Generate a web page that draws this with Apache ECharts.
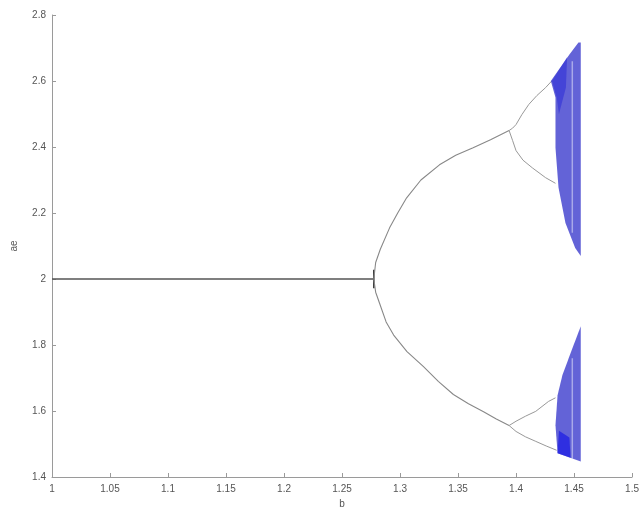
<!DOCTYPE html>
<html>
<head>
<meta charset="utf-8">
<script src="https://cdn.jsdelivr.net/npm/echarts@6/dist/echarts.min.js"></script>
<style>
html,body{margin:0;padding:0;background:#fff;}
#chart{width:642px;height:514px;}
</style>
</head>
<body>
<div id="chart"></div>
<script>
// Axis settings
const xTicks = [1, 1.05, 1.1, 1.15, 1.2, 1.25, 1.3, 1.35, 1.4, 1.45, 1.5];
const yTicks = [1.4, 1.6, 1.8, 2, 2.2, 2.4, 2.6, 2.8];
const xName = 'b';
const yName = 'ae';

// Period-1 fixed point [b, value]
const fixedBranch = [[1.0, 2.0], [1.2774, 2.0]];
const splitSpike = [[1.2774, 1.972], [1.2774, 2.028]];

// Period-2 branches
const upperBranch = [[1.2774, 2.0], [1.279, 2.05], [1.283, 2.09], [1.291, 2.155], [1.298, 2.20], [1.3057, 2.246], [1.318, 2.30], [1.334, 2.346], [1.348, 2.375], [1.363, 2.398], [1.378, 2.422], [1.394, 2.45]];
const lowerBranch = [[1.2774, 2.0], [1.279, 1.96], [1.2825, 1.925], [1.288, 1.87], [1.2945, 1.830], [1.306, 1.78], [1.320, 1.735], [1.333, 1.69], [1.346, 1.650], [1.359, 1.622], [1.372, 1.598], [1.383, 1.576], [1.394, 1.556]];

// Period-4 branches
const upperUpper = [[1.394, 2.45], [1.397, 2.457], [1.400, 2.468], [1.405, 2.498], [1.411, 2.529], [1.418, 2.556], [1.4255, 2.58], [1.431, 2.601]];
const upperLower = [[1.394, 2.45], [1.397, 2.42], [1.400, 2.389], [1.406, 2.36], [1.414, 2.337], [1.4255, 2.307], [1.434, 2.29]];
const lowerUpper = [[1.394, 1.556], [1.400, 1.569], [1.408, 1.584], [1.417, 1.599], [1.428, 1.629], [1.434, 1.64]];
const lowerLower = [[1.394, 1.556], [1.400, 1.538], [1.408, 1.522], [1.417, 1.508], [1.426, 1.494], [1.435, 1.481]];

// Chaotic bands (outline polygons)
const upperBand = [[1.430, 2.60], [1.438, 2.64], [1.446, 2.68], [1.4538, 2.717], [1.4558, 2.717], [1.4558, 2.07], [1.451, 2.094], [1.4426, 2.17], [1.4366, 2.277], [1.434, 2.398], [1.434, 2.55]];
const lowerBand = [[1.4558, 1.857], [1.4486, 1.79], [1.440, 1.709], [1.4358, 1.648], [1.434, 1.557], [1.4358, 1.472], [1.4558, 1.447]];
// Denser patches inside bands
const upperDense = [[1.431, 2.60], [1.444, 2.672], [1.443, 2.58], [1.437, 2.50], [1.435, 2.55]];
const lowerDense = [[1.4358, 1.472], [1.447, 1.458], [1.446, 1.52], [1.437, 1.54]];
// Lighter streaks inside bands
const upperStreak = [[1.4485, 2.66], [1.4485, 2.14]];
const lowerStreak = [[1.4485, 1.76], [1.4485, 1.455]];

const polygons = [
  {pts: upperBand, fill: 'rgba(60,60,205,0.8)'},
  {pts: lowerBand, fill: 'rgba(60,60,205,0.8)'},
  {pts: upperDense, fill: 'rgba(30,30,215,0.45)'},
  {pts: lowerDense, fill: 'rgba(20,20,230,0.65)'}
];

function lineSeries(data, color, width) {
  return {
    type: 'line', data: data, showSymbol: false, symbol: 'none',
    smooth: false, lineStyle: {color: color, width: width}, silent: true, z: 3
  };
}

const chart = echarts.init(document.getElementById('chart'), null, {renderer: 'canvas'});
const axisLabelStyle = {fontFamily: 'Liberation Sans, Arial, sans-serif', fontSize: 10, color: '#555'};

chart.setOption({
  animation: false,
  backgroundColor: '#fff',
  grid: {left: 52, right: 5, top: 15, bottom: 36, containLabel: false},
  xAxis: {
    type: 'value', min: xTicks[0], max: xTicks[xTicks.length - 1], interval: 0.05,
    name: xName, nameLocation: 'middle', nameGap: 22,
    nameTextStyle: {fontFamily: 'Liberation Sans, Arial, sans-serif', fontSize: 10, color: '#555'},
    axisLine: {show: true, onZero: false, lineStyle: {color: '#9a9a9a', width: 1}},
    axisTick: {show: true, inside: true, length: 4, lineStyle: {color: '#9a9a9a'}},
    axisLabel: Object.assign({margin: 7}, axisLabelStyle),
    splitLine: {show: false}
  },
  yAxis: {
    type: 'value', min: yTicks[0], max: yTicks[yTicks.length - 1], interval: 0.2,
    name: yName, nameLocation: 'middle', nameGap: 33, nameRotate: 90,
    nameTextStyle: {fontFamily: 'Liberation Sans, Arial, sans-serif', fontSize: 10, color: '#555'},
    axisLine: {show: true, onZero: false, lineStyle: {color: '#9a9a9a', width: 1}},
    axisTick: {show: true, inside: true, length: 4, lineStyle: {color: '#9a9a9a'}},
    axisLabel: Object.assign({margin: 6}, axisLabelStyle),
    splitLine: {show: false}
  },
  series: [
    lineSeries(fixedBranch, '#555', 1.6),
    lineSeries(splitSpike, '#333', 1.5),
    lineSeries(upperBranch, '#888', 1.1),
    lineSeries(lowerBranch, '#888', 1.1),
    lineSeries(upperUpper, '#999', 1),
    lineSeries(upperLower, '#999', 1),
    lineSeries(lowerUpper, '#999', 1),
    lineSeries(lowerLower, '#999', 1),
    {
      type: 'custom', silent: true, z: 4,
      data: polygons.map(p => p.pts[0]),
      renderItem: function (params, api) {
        const p = polygons[params.dataIndex];
        return {
          type: 'polygon',
          shape: {points: p.pts.map(pt => api.coord(pt))},
          style: {fill: p.fill, stroke: null}
        };
      }
    },
    Object.assign(lineSeries(upperStreak, 'rgba(255,255,255,0.45)', 1.5), {z: 5}),
    Object.assign(lineSeries(lowerStreak, 'rgba(255,255,255,0.45)', 1.5), {z: 5})
  ]
});
</script>
</body>
</html>
